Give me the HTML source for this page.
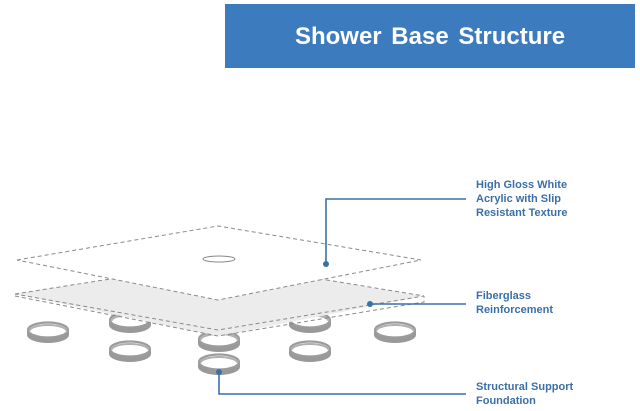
<!DOCTYPE html>
<html><head><meta charset="utf-8"><style>
body{margin:0;width:640px;height:411px;background:#fff;overflow:hidden;position:relative;font-family:"Liberation Sans",sans-serif}
.banner{position:absolute;left:225px;top:4px;width:410px;height:64px;background:#3c7bbd;color:#fff;font-weight:bold;font-size:24px;line-height:66px;text-align:center;word-spacing:3px}
.lbl{position:absolute;left:476px;color:#3b6fa8;font-weight:bold;font-size:11px;line-height:14px}
</style></head><body>
<div class="banner">Shower Base Structure</div>
<svg width="640" height="411" style="position:absolute;left:0;top:0">
<defs>
<g id="ring">
<path d="M-21 0 A21 8 0 0 0 21 0 L21 5 A21 8 0 0 1 -21 5Z" fill="#999"/>
<ellipse cx="0" cy="0" rx="20" ry="7.5" fill="#fff" stroke="#9c9c9c" stroke-width="2.2"/>
<path d="M-18.5 1 A18.5 6 0 0 1 18.5 1" fill="none" stroke="#b0b0b0" stroke-width="2"/>
</g>
</defs>
<use href="#ring" x="48" y="330"/>
<use href="#ring" x="130" y="320"/>
<use href="#ring" x="219" y="339"/>
<use href="#ring" x="310" y="320"/>
<use href="#ring" x="395" y="330"/>
<use href="#ring" x="130" y="349"/>
<use href="#ring" x="310" y="349"/>
<use href="#ring" x="219" y="362"/>
<polygon points="15,294 218,262 424,296 218,336" fill="#ececec"/>
<g fill="none" stroke="#8a8a8a" stroke-width="1" stroke-dasharray="4,3">
<polygon points="15,294 218,262 424,296 218,330"/>
<polyline points="15,296 218,336 424,302 424,296"/>
</g>
<polygon points="17,260 218,226 421,260 218,300" fill="#fff" stroke="#8a8a8a" stroke-dasharray="4,3"/>
<ellipse cx="219" cy="259" rx="16" ry="3" fill="none" stroke="#888" stroke-width="1"/>
<g stroke="#3b6fa8" stroke-width="1.6" fill="none">
<polyline points="326,264 326,199 466,199"/>
<polyline points="370,304 466,304"/>
<polyline points="219,372 219,394 466,394"/>
</g>
<g fill="#3b6fa8"><circle cx="326" cy="264" r="3"/><circle cx="370" cy="304" r="3"/><circle cx="219" cy="372" r="3"/></g>
</svg>
<div class="lbl" style="top:178px">High Gloss White<br>Acrylic with Slip<br>Resistant Texture</div>
<div class="lbl" style="top:289px">Fiberglass<br>Reinforcement</div>
<div class="lbl" style="top:380px">Structural Support<br>Foundation</div>
</body></html>
